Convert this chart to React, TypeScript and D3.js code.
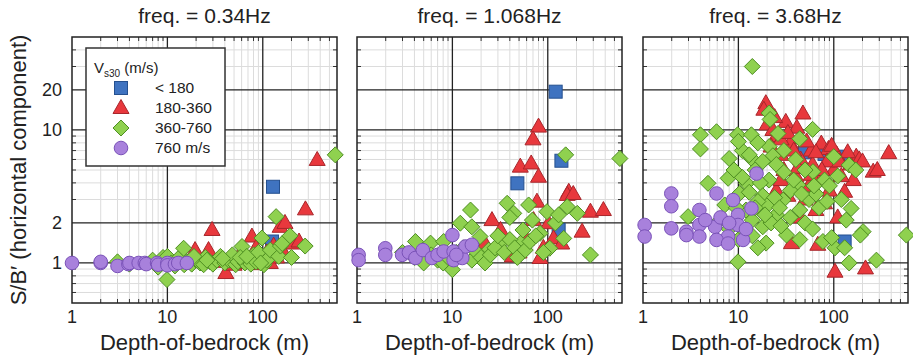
import React from 'react';
import * as d3 from 'd3';

type Pt = [number, number];

const panelTitles = ['freq. = 0.34Hz', 'freq. = 1.068Hz', 'freq. = 3.68Hz'];
const xTickValues = [1, 10, 100];
const yTickValues = [1, 2, 10, 20];
const legendLabels = ['< 180', '180-360', '360-760', '760 m/s'];
const xLabel = 'Depth-of-bedrock (m)';
const yLabel = 'S/B\u2032 (horizontal component)';

// ---- Panel 1: 0.34 Hz ----
const p1Blue: Pt[] = [[125, 1.45], [128, 3.74]];
const p1Red: Pt[] = [
  [19.5, 1.25], [27, 1.25], [29.4, 1.77], [35, 1.02], [41, 0.84], [45, 1.05], [55, 1.1], [65, 1.05],
  [70, 1.0], [77, 1.58], [85, 1.3], [95, 1.1], [110, 1.2], [120, 1.0], [130, 1.35], [152, 1.87],
  [171, 2.0], [180, 1.5], [210, 1.4], [240, 1.45], [280, 2.53], [372, 5.95], [50, 0.97], [60, 1.0],
  [90, 0.98], [100, 1.05], [140, 1.1], [160, 1.25],
];
const p1Green: Pt[] = [
  [3, 1.02], [4, 0.98], [7, 1.05], [8, 0.93], [9, 1.1], [9.9, 0.75], [10, 1.12], [11, 1.0], [12, 0.95],
  [13, 1.08], [14.8, 1.29], [16, 1.02], [18, 0.98], [20, 1.05], [22, 1.0], [24, 0.97], [25, 1.1],
  [28, 1.02], [30, 0.98], [33, 1.05], [36, 1.12], [40, 1.0], [44, 1.05], [48, 1.15], [52, 0.97],
  [55, 1.02], [60.6, 1.33], [65, 1.0], [71, 1.09], [75, 0.98], [80, 1.15], [85, 1.02], [90, 1.2],
  [98, 1.54], [103, 0.97], [110, 1.05], [120, 1.25], [138, 2.23], [147, 1.12], [153, 1.34],
  [160, 1.4], [193, 1.6], [200, 1.1], [278, 1.34], [575, 6.5], [15, 0.97], [19, 1.12], [26, 1.05],
  [38, 1.08], [58, 1.1], [68, 1.12], [95, 1.0],
];
const p1Purple: Pt[] = [
  [1, 1.0], [2, 1.0], [2, 1.02], [3, 0.95], [3.9, 0.98], [4, 1.0], [5, 1.0], [5.8, 1.0], [6, 0.98],
  [7.8, 1.0], [8, 0.97], [10, 1.0], [10, 0.96], [12, 0.98], [13, 1.0], [16, 1.0],
];

// ---- Panel 2: 1.068 Hz ----
const p2Blue: Pt[] = [[121, 19.4], [139, 5.87], [48, 3.97], [130, 1.77]];
const p2Red: Pt[] = [
  [80, 10.6], [70, 8.5], [51.5, 5.3], [67, 5.6], [80, 4.45], [166, 3.43], [77, 2.89], [160, 3.25],
  [185, 3.3], [280, 2.43], [383, 2.5], [26, 2.1], [32, 1.77], [42.5, 1.12], [83, 1.09], [229, 1.72],
  [102, 1.99], [115, 1.53], [71, 2.1], [30, 1.3], [60, 1.5], [90, 1.3], [140, 1.4], [50, 1.2], [22, 1.4],
];
const p2Green: Pt[] = [
  [154, 6.5], [570, 6.1], [15.5, 2.5], [12.1, 1.99], [16, 1.87], [37.5, 2.81], [44, 2.36], [63, 2.73],
  [98, 2.43], [160, 2.65], [204, 2.36], [280, 1.15], [147, 1.53], [105, 1.29], [83, 1.67], [52, 1.41],
  [55, 1.77], [69, 2.1], [32, 1.41], [24, 1.25], [19.5, 1.58], [16, 1.05], [10, 0.89], [4.1, 1.45],
  [5.9, 1.41], [8.1, 1.45], [3, 1.2], [4, 1.1], [5, 1.0], [6, 1.15], [7, 1.05], [8, 1.0], [9, 1.1],
  [11, 1.2], [13, 1.3], [18, 1.2], [20, 1.1], [22, 1.0], [25, 1.15], [28, 1.3], [35, 1.2], [40, 1.5],
  [45, 1.3], [48, 1.1], [58, 1.25], [65, 1.45], [75, 1.6], [90, 1.2], [120, 2.0], [130, 2.3],
  [40, 2.2], [30, 1.6],
];
const p2Purple: Pt[] = [
  [1.04, 1.15], [1.04, 1.05], [1.98, 1.29], [1.98, 1.15], [2.97, 1.15], [3.5, 1.2], [4.1, 1.09],
  [4.9, 1.25], [6.1, 1.09], [7, 1.15], [8.1, 1.22], [10, 1.62], [10.3, 1.22], [10.3, 1.05],
  [12.7, 1.09], [13.7, 1.33], [16, 1.37], [11, 1.15],
];

// ---- Panel 3: 3.68 Hz ----
const p3Blue: Pt[] = [[125, 6.3], [50, 6.8], [130, 1.45], [80, 6.6]];
const p3Red: Pt[] = [
  [19.4, 15.9], [18.5, 14.2], [31.4, 11.5], [47.5, 13.3], [41, 10.4], [74, 7.9], [88, 7.2], [172, 6.3],
  [377, 6.7], [58, 7.0], [108, 6.5], [185, 6.0], [259, 4.86], [130, 3.43], [80, 2.81], [160, 4.2],
  [36, 1.41], [68, 1.37], [103, 0.86], [215, 0.91], [25, 9], [22, 7.5], [35, 8], [28, 6.5], [45, 6],
  [60, 5.5], [100, 5], [120, 4.5], [30, 5], [40, 4.5], [55, 3.8], [70, 4.2], [90, 3.5], [25, 3.5],
  [50, 3], [65, 2.5], [20, 11], [24, 12.5], [38, 7], [150, 5.5], [200, 5.8], [85, 5.8], [110, 2.2],
  [45, 2.2], [286, 5.0], [23, 10], [28, 8.5], [33, 9.5], [52, 8.2], [65, 6.8], [95, 7.6], [140, 6.8],
  [42, 5.2], [75, 5.0], [33, 3.2], [58, 4.6], [115, 5.8], [28, 4.2],
];
const p3Green: Pt[] = [
  [14, 30], [4, 9.2], [5.9, 9.7], [9.8, 9.2], [13.7, 9.2], [4, 7.2], [8, 6.1], [13.7, 6.1], [21, 13.4],
  [21.5, 12], [26, 9.4], [60, 10.1], [44, 8.6], [21, 7.5], [23, 6.4], [4.8, 3.97], [7.8, 4.33],
  [10.3, 3.33], [2.97, 2.23], [7.2, 2.73], [12.2, 3.97], [21, 4.2], [29.5, 2.97], [44, 2.5], [25, 2.3],
  [18, 1.87], [42, 3.86], [60.6, 4.86], [80, 4.2], [145, 5.45], [152, 2.57], [135, 2.1], [203, 1.72],
  [577, 1.62], [9.9, 1.02], [145, 1.0], [280, 1.05], [190, 1.62], [103, 1.3], [19.5, 1.41], [32, 1.62],
  [44, 1.5], [77, 1.45], [95, 1.55], [15, 5], [17, 4], [18, 3.2], [20, 2.7], [12, 2.5], [14, 2.1],
  [16, 2.9], [25, 5.5], [30, 4.8], [35, 3.5], [40, 6], [50, 5], [55, 3], [65, 3.3], [70, 2.6], [90, 3.8],
  [110, 4.5], [120, 3], [9, 5], [11, 7], [16, 8], [30, 7], [35, 2.2], [50, 2], [60, 1.8], [6, 2],
  [8, 1.8], [10, 1.5], [12, 1.7], [22, 2], [28, 1.9], [16, 1.3], [13, 6.5], [10, 8.2], [100, 6.3],
  [170, 5], [130, 1.3], [18, 5.8], [19, 2.3], [24, 3.1], [13, 3.4], [15, 2.6], [27, 2.6], [38, 4.2],
  [46, 3.3], [11, 4.4], [9.5, 2.6], [14, 1.6], [85, 2.9], [62, 3.8],
];
const p3Purple: Pt[] = [
  [15.5, 4.7], [1.98, 3.33], [5.9, 3.33], [1.98, 2.67], [3.9, 2.5], [8.8, 2.97], [13.7, 2.57],
  [1.04, 1.93], [1.98, 1.82], [2.85, 1.72], [3.9, 1.93], [5.7, 1.87], [9.9, 2.3], [9.9, 1.93],
  [7.8, 1.58], [1.04, 1.58], [3.9, 1.58], [5.9, 1.49], [11.2, 1.49], [7.8, 1.4], [2.85, 1.62],
  [4.5, 2.1], [6.5, 2.2], [8, 2.0], [12, 1.8],
];

const panelData = [
  { blue: p1Blue, red: p1Red, green: p1Green, purple: p1Purple },
  { blue: p2Blue, red: p2Red, green: p2Green, purple: p2Purple },
  { blue: p3Blue, red: p3Red, green: p3Green, purple: p3Purple },
];

const W = 913;
const H = 358;
const panelLefts = [72, 357, 643];
const PW = 265;
const TOP = 37;
const PH = 266;
const FONT = '"Liberation Sans", Arial, Helvetica, sans-serif';

const STY = {
  blue: { fill: '#3f73c0', stroke: '#25508f' },
  red: { fill: '#e8383d', stroke: '#a8262b' },
  green: { fill: '#8fd14f', stroke: '#4e8e22' },
  purple: { fill: '#a881dc', stroke: '#7a52b8' },
};

type Kind = 'blue' | 'red' | 'green' | 'purple';

function Marker({ kind, x, y }: { kind: Kind; x: number; y: number }) {
  const s = STY[kind];
  const common = { fill: s.fill, stroke: s.stroke, strokeWidth: 1 };
  if (kind === 'blue') return <rect x={x - 6.5} y={y - 6.5} width={13} height={13} {...common} />;
  if (kind === 'red')
    return <polygon points={`${x},${y - 8.5} ${x - 8},${y + 5.5} ${x + 8},${y + 5.5}`} {...common} />;
  if (kind === 'green')
    return <polygon points={`${x},${y - 8} ${x + 8},${y} ${x},${y + 8} ${x - 8},${y}`} {...common} />;
  return <circle cx={x} cy={y} r={6.8} {...common} />;
}

const minorX: number[] = [];
[1, 10, 100].forEach((d) => {
  for (let k = 2; k <= 9; k++) if (k * d < 600) minorX.push(k * d);
});
const minorY = [0.6, 0.7, 0.8, 0.9, 3, 4, 5, 6, 7, 8, 9, 30, 40];
const majorX = [10, 100];
const majorY = [1, 2, 10, 20];

function Panel({ idx }: { idx: number }) {
  const left = panelLefts[idx];
  const x = d3.scaleLog().domain([1, 600]).range([left, left + PW]);
  const y = d3.scaleLog().domain([0.5, 50]).range([TOP + PH, TOP]);
  const data = panelData[idx];
  const order: Kind[] = ['blue', 'red', 'green', 'purple'];
  const right = left + PW;
  const bottom = TOP + PH;
  return (
    <g>
      <rect x={left} y={TOP} width={PW} height={PH} fill="#fff" />
      {minorX.map((v) => (
        <line key={'mx' + v} x1={x(v)} x2={x(v)} y1={TOP} y2={bottom} stroke="#dcdcdc" strokeWidth={1} />
      ))}
      {minorY.map((v) => (
        <line key={'my' + v} x1={left} x2={right} y1={y(v)} y2={y(v)} stroke="#dcdcdc" strokeWidth={1} />
      ))}
      {minorX.map((v) => (
        <g key={'tx' + v}>
          <line x1={x(v)} x2={x(v)} y1={TOP} y2={TOP + 4} stroke="#333" strokeWidth={1} />
          <line x1={x(v)} x2={x(v)} y1={bottom} y2={bottom - 4} stroke="#333" strokeWidth={1} />
        </g>
      ))}
      {minorY.map((v) => (
        <g key={'ty' + v}>
          <line x1={left} x2={left + 4} y1={y(v)} y2={y(v)} stroke="#333" strokeWidth={1} />
          <line x1={right} x2={right - 4} y1={y(v)} y2={y(v)} stroke="#333" strokeWidth={1} />
        </g>
      ))}
      {majorX.map((v) => (
        <line key={'Mx' + v} x1={x(v)} x2={x(v)} y1={TOP} y2={bottom} stroke="#222" strokeWidth={1.3} />
      ))}
      {majorY.map((v) => (
        <line key={'My' + v} x1={left} x2={right} y1={y(v)} y2={y(v)} stroke="#222" strokeWidth={1.3} />
      ))}
      <rect x={left} y={TOP} width={PW} height={PH} fill="none" stroke="#222" strokeWidth={1.5} />
      {order.map((k) =>
        data[k].map((p, i) => <Marker key={k + i} kind={k} x={x(p[0])} y={y(p[1])} />)
      )}
      <text x={left + PW / 2} y={23} textAnchor="middle" fontFamily={FONT} fontSize={21} fill="#222">
        {panelTitles[idx]}
      </text>
      {xTickValues.map((v) => (
        <text key={'xl' + v} x={x(v)} y={323} textAnchor="middle" fontFamily={FONT} fontSize={18} fill="#222">
          {v}
        </text>
      ))}
      <text x={left + PW / 2} y={350} textAnchor="middle" fontFamily={FONT} fontSize={22} fill="#222">
        {xLabel}
      </text>
      {idx === 0 &&
        yTickValues.map((v) => (
          <text key={'yl' + v} x={62} y={y(v)} dy="0.35em" textAnchor="end" fontFamily={FONT} fontSize={18} fill="#222">
            {v}
          </text>
        ))}
    </g>
  );
}

function Legend() {
  const kinds: Kind[] = ['blue', 'red', 'green', 'purple'];
  return (
    <g>
      <rect x={86} y={48} width={139} height={118} fill="#fff" stroke="#333" strokeWidth={1.5} />
      <text x={94} y={73} fontFamily={FONT} fontSize={15} fill="#222">
        V<tspan fontSize={10} dy={4}>s30</tspan>
        <tspan dy={-4}> (m/s)</tspan>
      </text>
      {kinds.map((k, i) => (
        <g key={k}>
          <Marker kind={k} x={121} y={88 + i * 20} />
          <text x={155} y={88 + i * 20} dy="0.35em" fontFamily={FONT} fontSize={15.5} fill="#222">
            {legendLabels[i]}
          </text>
        </g>
      ))}
    </g>
  );
}

export default function App() {
  return (
    <svg width={W} height={H} style={{ position: 'absolute', left: 0, top: 0 }} xmlns="http://www.w3.org/2000/svg">
      <rect width={W} height={H} fill="#fff" />
      {[0, 1, 2].map((i) => (
        <Panel key={i} idx={i} />
      ))}
      <Legend />
      <text
        transform="translate(18,170) rotate(-90)"
        textAnchor="middle"
        dominantBaseline="central"
        fontFamily={FONT}
        fontSize={22}
        fill="#222"
      >
        {yLabel}
      </text>
    </svg>
  );
}
